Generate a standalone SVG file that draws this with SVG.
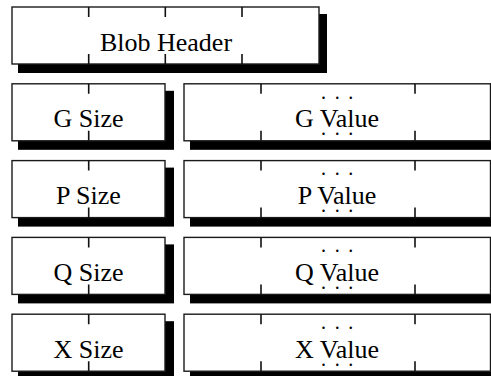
<svg xmlns="http://www.w3.org/2000/svg" width="491" height="376" viewBox="0 0 491 376">
  <style>
    .shadow { fill: #000; }
    .box { fill: #fff; stroke: #1a1a1a; stroke-width: 1.4; }
    .tick { stroke: #111; stroke-width: 1.6; }
    .label { font-family: "Liberation Serif", "Times New Roman", serif; font-size: 26px; fill: #000; text-anchor: middle; }
    .dots { font-family: "Liberation Serif", "Times New Roman", serif; font-size: 20px; fill: #000; }
  </style>
  <rect width="491" height="376" fill="#fff"/>

  <!-- header field: four units wide, ticks at every unit -->
  <g id="blob-header">
    <rect class="shadow" x="18" y="14" width="309" height="59"/>
    <rect class="box" x="12" y="7" width="307" height="57"/>
    <path class="tick" d="M88.7 7v10M165.3 7v10M242 7v10M88.7 54v10M165.3 54v10M242 54v10"/>
    <text class="label" x="166" y="51">Blob Header</text>
  </g>

  <!-- size fields: two units wide -->
  <g id="g-size">
    <rect class="shadow" x="18" y="90.8" width="156" height="59"/>
    <rect class="box" x="12" y="83.8" width="153" height="57"/>
    <path class="tick" d="M88.7 83.8v10M88.7 130.8v10"/>
    <text class="label" x="88.5" y="127.3">G Size</text>
  </g>
  <g id="p-size">
    <rect class="shadow" x="18" y="167.6" width="156" height="59"/>
    <rect class="box" x="12" y="160.6" width="153" height="57"/>
    <path class="tick" d="M88.7 160.6v10M88.7 207.6v10"/>
    <text class="label" x="88.5" y="204.1">P Size</text>
  </g>
  <g id="q-size">
    <rect class="shadow" x="18" y="244.4" width="156" height="59"/>
    <rect class="box" x="12" y="237.4" width="153" height="57"/>
    <path class="tick" d="M88.7 237.4v10M88.7 284.4v10"/>
    <text class="label" x="88.5" y="280.9">Q Size</text>
  </g>
  <g id="x-size">
    <rect class="shadow" x="18" y="321.2" width="156" height="59"/>
    <rect class="box" x="12" y="314.2" width="153" height="57"/>
    <path class="tick" d="M88.7 314.2v10M88.7 361.2v10"/>
    <text class="label" x="88.5" y="357.7">X Size</text>
  </g>

  <!-- value fields: variable length, middle unit elided -->
  <g id="g-value">
    <rect class="shadow" x="190" y="90.8" width="309" height="59"/>
    <rect class="box" x="184" y="83.8" width="306.5" height="57"/>
    <path class="tick" d="M261 83.8v10M415 83.8v10M261 130.8v10M415 130.8v10"/>
    <text class="dots" x="321 334.8 348.3" y="98.6">...</text>
    <text class="label" x="337" y="127.3">G Value</text>
    <text class="dots" x="321 334.8 348.3" y="135.1">...</text>
  </g>
  <g id="p-value">
    <rect class="shadow" x="190" y="167.6" width="309" height="59"/>
    <rect class="box" x="184" y="160.6" width="306.5" height="57"/>
    <path class="tick" d="M261 160.6v10M415 160.6v10M261 207.6v10M415 207.6v10"/>
    <text class="dots" x="321 334.8 348.3" y="175.4">...</text>
    <text class="label" x="337" y="204.1">P Value</text>
    <text class="dots" x="321 334.8 348.3" y="211.9">...</text>
  </g>
  <g id="q-value">
    <rect class="shadow" x="190" y="244.4" width="309" height="59"/>
    <rect class="box" x="184" y="237.4" width="306.5" height="57"/>
    <path class="tick" d="M261 237.4v10M415 237.4v10M261 284.4v10M415 284.4v10"/>
    <text class="dots" x="321 334.8 348.3" y="252.2">...</text>
    <text class="label" x="337" y="280.9">Q Value</text>
    <text class="dots" x="321 334.8 348.3" y="288.7">...</text>
  </g>
  <g id="x-value">
    <rect class="shadow" x="190" y="321.2" width="309" height="59"/>
    <rect class="box" x="184" y="314.2" width="306.5" height="57"/>
    <path class="tick" d="M261 314.2v10M415 314.2v10M261 361.2v10M415 361.2v10"/>
    <text class="dots" x="321 334.8 348.3" y="329">...</text>
    <text class="label" x="337" y="357.7">X Value</text>
    <text class="dots" x="321 334.8 348.3" y="365.5">...</text>
  </g>
</svg>
